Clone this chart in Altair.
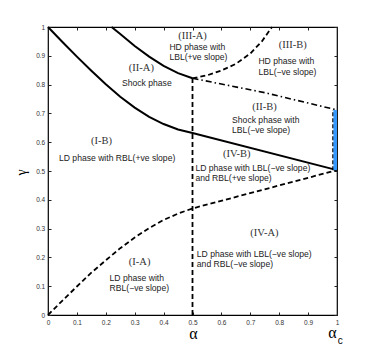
import altair as alt
import pandas as pd

# ---------------- data ----------------
tick_values = [0, 0.1, 0.2, 0.3, 0.4, 0.5, 0.6, 0.7, 0.8, 0.9, 1.0]

# solid boundary I-B / II-A continuing as II-B / IV-B
lower_solid_alpha = [0, 0.05, 0.1, 0.15, 0.2, 0.25, 0.3, 0.35, 0.4, 0.45, 0.5, 1.0]
lower_solid_gamma = [1.0, 0.948, 0.897, 0.848, 0.801, 0.758, 0.720, 0.688, 0.663, 0.644, 0.632, 0.503]

# solid boundary II-A / III-A
upper_solid_alpha = [0.22, 0.25, 0.3, 0.35, 0.4, 0.45, 0.5]
upper_solid_gamma = [1.0, 0.976, 0.934, 0.897, 0.865, 0.840, 0.822]

# dashed boundary III-A / III-B
upper_dashed_alpha = [0.5, 0.55, 0.6, 0.65, 0.7, 0.74, 0.775]
upper_dashed_gamma = [0.822, 0.832, 0.849, 0.872, 0.908, 0.950, 1.0]

# dashed boundary I-A / I-B, IV-A / IV-B
lower_dashed_alpha = [0, 0.05, 0.1, 0.15, 0.2, 0.25, 0.3, 0.35, 0.4, 0.45, 0.5, 1.0]
lower_dashed_gamma = [0, 0.05, 0.099, 0.147, 0.19, 0.232, 0.269, 0.302, 0.33, 0.352, 0.37, 0.503]

# vertical dashed line at alpha = 0.5
vertical_alpha = [0.5, 0.5]
vertical_gamma = [0.0, 0.822]

# dash-dot boundary III-B / II-B
dashdot_alpha = [0.5, 0.75, 1.0]
dashdot_gamma = [0.822, 0.772, 0.712]

# blue segment at alpha_c
blue_alpha = [1.0]
blue_gamma_low = [0.503]
blue_gamma_high = [0.712]

# region names
roman_text = ["(III-A)", "(II-A)", "(III-B)", "(II-B)", "(I-B)", "(IV-B)", "(IV-A)", "(I-A)"]
roman_alpha = [0.50, 0.323, 0.847, 0.749, 0.185, 0.653, 0.749, 0.317]
roman_gamma = [0.968, 0.859, 0.9375, 0.721, 0.605, 0.559, 0.286, 0.185]

# phase descriptions (left aligned)
phase_text = ["HD phase with", "LBL(+ve slope)",
              "HD phase with", "LBL(\u2212ve slope)",
              "Shock phase with", "LBL(\u2212ve slope)",
              "LD phase with RBL(+ve slope)",
              "LD phase with LBL(\u2212ve slope)", "and RBL(+ve slope)",
              "LD phase with LBL(\u2212ve slope)", "and RBL(\u2212ve slope)",
              "LD phase with", "RBL(\u2212ve slope)"]
phase_alpha = [0.42, 0.42, 0.728, 0.728, 0.637, 0.637, 0.038,
               0.510, 0.510, 0.515, 0.515, 0.213, 0.213]
phase_gamma = [0.932, 0.897, 0.883, 0.845, 0.677, 0.642, 0.544,
               0.509, 0.475, 0.211, 0.176, 0.127, 0.093]

shock_text = ["Shock phase"]
shock_alpha = [0.342]
shock_gamma = [0.805]

# alpha_c label below the right end of the axis
alphac_text = ["\u03b1"]
alphac_alpha = [0.984]
alphac_gamma = [-0.08]
sub_text = ["c"]
sub_alpha = [1.011]
sub_gamma = [-0.092]


def curve_df(name, a, g):
    return pd.DataFrame({"alpha": a, "gamma": g, "curve": name, "order": range(len(a))})


def text_df(t, a, g):
    return pd.DataFrame({"alpha": a, "gamma": g, "text": t})


solid_df = pd.concat([curve_df("lower_solid", lower_solid_alpha, lower_solid_gamma),
                      curve_df("upper_solid", upper_solid_alpha, upper_solid_gamma)])
dashed_df = pd.concat([curve_df("upper_dashed", upper_dashed_alpha, upper_dashed_gamma),
                       curve_df("lower_dashed", lower_dashed_alpha, lower_dashed_gamma),
                       curve_df("vertical", vertical_alpha, vertical_gamma)])
dashdot_df = curve_df("dashdot", dashdot_alpha, dashdot_gamma)
blue_df = pd.DataFrame({"alpha": blue_alpha, "g1": blue_gamma_low, "g2": blue_gamma_high})
roman_df = text_df(roman_text, roman_alpha, roman_gamma)
phase_df = text_df(phase_text, phase_alpha, phase_gamma)
shock_df = text_df(shock_text, shock_alpha, shock_gamma)
alphac_df = text_df(alphac_text, alphac_alpha, alphac_gamma)
sub_df = text_df(sub_text, sub_alpha, sub_gamma)

# ---------------- chart ----------------
xs = alt.Scale(domain=[0, 1], nice=False, zero=False)
ys = alt.Scale(domain=[0, 1], nice=False, zero=False)

common_axis = dict(values=tick_values, domain=False, grid=False, tickSize=3, offset=-3,
                   tickColor="#222", tickWidth=1, labelFont="Liberation Sans",
                   labelFontSize=6.5, labelColor="#333", labelOverlap=False, labelFlush=False)

x_axis = alt.Axis(orient="bottom", format=".1~f", labelPadding=4,
                  title="\u03b1", titleFont="Liberation Serif", titleFontSize=16,
                  titleFontWeight="normal", titleColor="black", titleX=145, titleY=26,
                  titleBaseline="alphabetic", titleAlign="center", **common_axis)
y_axis = alt.Axis(orient="left", format=".1~f", labelPadding=3.3,
                  title="\u03b3", titleFont="Liberation Serif", titleFontSize=14,
                  titleFontWeight="normal", titleColor="black", titleX=-30, titleY=145,
                  titleBaseline="middle", titleAlign="center", titleAngle=270, **common_axis)
x_axis_top = alt.Axis(orient="top", labels=False, title=None, **common_axis)
y_axis_right = alt.Axis(orient="right", labels=False, title=None, **common_axis)


def X(field, axis=None):
    return alt.X(field, scale=xs, axis=axis)


def Y(field, axis=None):
    return alt.Y(field, scale=ys, axis=axis)


solid = alt.Chart(solid_df).mark_line(color="black", strokeWidth=2).encode(
    x=X("alpha:Q", x_axis), y=Y("gamma:Q", y_axis),
    detail="curve:N", order="order:Q")

frame_axes = alt.Chart(solid_df).mark_line(opacity=0).encode(
    x=X("alpha:Q", x_axis_top), y=Y("gamma:Q", y_axis_right),
    detail="curve:N", order="order:Q")

dashed = alt.Chart(dashed_df).mark_line(color="black", strokeWidth=1.8, strokeDash=[5, 3]).encode(
    x=X("alpha:Q"), y=Y("gamma:Q"), detail="curve:N", order="order:Q")

dashdot = alt.Chart(dashdot_df).mark_line(color="black", strokeWidth=1.6,
                                          strokeDash=[6, 3, 1.5, 3]).encode(
    x=X("alpha:Q"), y=Y("gamma:Q"), order="order:Q")

blue_dash = alt.Chart(blue_df).mark_rule(color="black", strokeWidth=1.5, strokeDash=[4, 2],
                                         xOffset=-4).encode(
    x=X("alpha:Q"), y=Y("g1:Q"), y2="g2:Q")

blue = alt.Chart(blue_df).mark_rule(color="#3399ff", strokeWidth=3.5, xOffset=-1.8).encode(
    x=X("alpha:Q"), y=Y("g1:Q"), y2="g2:Q")

roman = alt.Chart(roman_df).mark_text(font="Liberation Serif", fontSize=10.5, color="#333",
                                      align="center", baseline="middle").encode(
    x=X("alpha:Q"), y=Y("gamma:Q"), text="text:N")

phase = alt.Chart(phase_df).mark_text(font="Liberation Sans", fontSize=8.6, color="#222",
                                      align="left", baseline="middle").encode(
    x=X("alpha:Q"), y=Y("gamma:Q"), text="text:N")

shock = alt.Chart(shock_df).mark_text(font="Liberation Sans", fontSize=8.6, color="#222",
                                      align="center", baseline="middle").encode(
    x=X("alpha:Q"), y=Y("gamma:Q"), text="text:N")

alpha_c = alt.Chart(alphac_df).mark_text(font="Liberation Serif", fontSize=16, color="black",
                                         align="center", baseline="alphabetic").encode(
    x=X("alpha:Q"), y=Y("gamma:Q"), text="text:N")

alpha_c_sub = alt.Chart(sub_df).mark_text(font="Liberation Sans", fontSize=10, color="black",
                                          align="center", baseline="middle").encode(
    x=X("alpha:Q"), y=Y("gamma:Q"), text="text:N")

chart = alt.layer(solid, frame_axes, dashed, dashdot, blue_dash, blue, roman, phase, shock,
                  alpha_c, alpha_c_sub).resolve_axis(
    x="independent", y="independent").properties(
    width=289, height=288,
    autosize=alt.AutoSizeParams(type="none"),
    padding={"left": 40, "top": 19, "right": 26, "bottom": 30},
).configure_view(stroke="black", strokeWidth=1.2)

chart.save("out.html", embed_options={"renderer": "svg", "actions": False})
